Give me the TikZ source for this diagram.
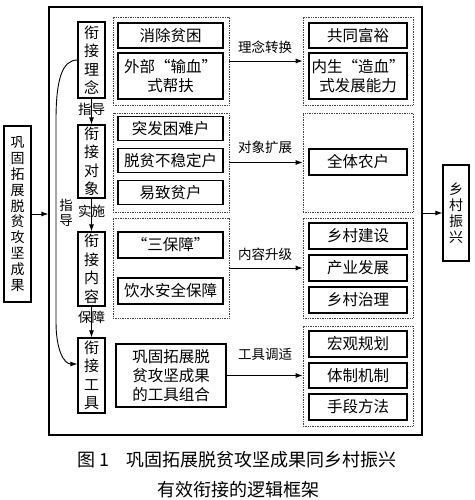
\documentclass[tikz,border=0pt]{standalone}
\usepackage{fontspec}
\setmainfont{Noto Sans CJK SC}
\usetikzlibrary{arrows.meta,calc}
\begin{document}
\begin{tikzpicture}[x=1pt,y=-1pt,
  box/.style={draw, line width=1.2pt, inner sep=0pt, align=center, font=\fontsize{15.5}{19}\selectfont},
  vbox/.style={box, font=\fontsize{15}{18.5}\selectfont},
  grp/.style={draw=black!75, densely dotted, line width=0.7pt, inner sep=0pt},
  lab/.style={inner sep=0pt, font=\fontsize{13.5}{15}\selectfont},
  arr/.style={-{Latex[length=7pt,width=5pt]}, line width=0.9pt}]
\useasboundingbox (0,0) rectangle (474,500);
% outer frame
\node[draw, line width=1.3pt, minimum width=373, minimum height=428, inner sep=0pt] (outer) at (235.5,221) {};
% left and right boxes
\node[box, font=\fontsize{14}{15.8}\selectfont, minimum width=27, minimum height=176] (L) at (17.5,214) {巩\\固\\拓\\展\\脱\\贫\\攻\\坚\\成\\果};
\node[box, font=\fontsize{14}{16}\selectfont, minimum width=26, minimum height=96] (R) at (456,213) {乡\\村\\振\\兴};
\draw[arr] (L.east) -- (L.east -| outer.west);
\draw[arr] (R.west -| outer.east) -- (R.west);
% column A
\node[vbox, minimum width=27, minimum height=76] (A1) at (91.5,60) {衔\\接\\理\\念};
\node[vbox, minimum width=27, minimum height=73] (A2) at (91.5,161.5) {衔\\接\\对\\象};
\node[vbox, minimum width=27, minimum height=74] (A3) at (91.5,269) {衔\\接\\内\\容};
\node[vbox, minimum width=27, minimum height=75] (A4) at (91.5,375.5) {衔\\接\\工\\具};
\node[lab] (l1) at (91.5,109) {指导};
\node[lab] (l2) at (91.5,211) {实施};
\node[lab] (l3) at (91.5,317) {保障};
\draw[arr] (A1.south) -- (A2.north);
\draw[arr] (A2.south) -- (A3.north);
\draw[arr] (A3.south) -- (A4.north);
\coordinate (ct) at ($(A4.west)+(0,-11.5)$);
\draw[arr] (A1.west) .. controls (62,60) and (56,80) .. (56,120) -- (56,322) .. controls (56,350) and (64,364) .. (ct);
\node[lab, align=center, font=\fontsize{13.5}{14.5}\selectfont] (l4) at (66,213) {指\\导};
% middle groups
\node[grp, minimum width=116, minimum height=88] (G1) at (171,61) {};
\node[grp, minimum width=116, minimum height=99] (G2) at (171,162.5) {};
\node[grp, minimum width=116, minimum height=100] (G3) at (171,268) {};
\node[box, minimum width=105, minimum height=25] (m1) at (170.5,35.5) {消除贫困};
\node[box, minimum width=105, minimum height=46] (m2) at (170.5,76) {外部“输血”\\式帮扶};
\node[box, minimum width=105, minimum height=24] (m3) at (170.5,128.5) {突发困难户};
\node[box, minimum width=105, minimum height=24] (m4) at (170.5,160.5) {脱贫不稳定户};
\node[box, minimum width=105, minimum height=24] (m5) at (170.5,192.5) {易致贫户};
\node[box, minimum width=105, minimum height=26] (m6) at (170.5,245) {“三保障”};
\node[box, minimum width=105, minimum height=26] (m7) at (170.5,291) {饮水安全保障};
\node[box, minimum width=110, minimum height=63] (T) at (171,375.5) {巩固拓展脱\\贫攻坚成果\\的工具组合};
% right groups
\node[grp, minimum width=110, minimum height=88] (R1) at (358,61) {};
\node[grp, minimum width=110, minimum height=99] (R2) at (358,162.5) {};
\node[grp, minimum width=110, minimum height=100] (R3) at (358,268) {};
\node[grp, minimum width=110, minimum height=100] (R4) at (358,376) {};
\node[box, minimum width=98, minimum height=25] (r1) at (358,35.5) {共同富裕};
\node[box, minimum width=98, minimum height=46] (r2) at (358,76) {内生“造血”\\式发展能力};
\node[box, minimum width=98, minimum height=26] (r3) at (358,162) {全体农户};
\node[box, minimum width=98, minimum height=26] (r4) at (358,236) {乡村建设};
\node[box, minimum width=98, minimum height=26] (r5) at (358,268) {产业发展};
\node[box, minimum width=98, minimum height=26] (r6) at (358,300) {乡村治理};
\node[box, minimum width=98, minimum height=26] (r7) at (358,344) {宏观规划};
\node[box, minimum width=98, minimum height=25] (r8) at (358,375.5) {体制机制};
\node[box, minimum width=98, minimum height=26] (r9) at (358,407) {手段方法};
% middle arrows and labels
\draw[arr] (G1.east) -- (R1.west);
\draw[arr] (G2.east) -- (R2.west);
\draw[arr] (G3.east) -- (R3.west);
\draw[arr] (T.east) -- (T.east -| R4.west);
\node[lab] (t1) at (265,47) {理念转换};
\node[lab] (t2) at (265,147) {对象扩展};
\node[lab] (t3) at (265,254) {内容升级};
\node[lab] (t4) at (265,354) {工具调适};
% caption
\node[inner sep=0pt, font=\fontsize{18}{20}\selectfont] (cap1) at (237,460) {图 1\hspace{0.9em}巩固拓展脱贫攻坚成果同乡村振兴};
\node[inner sep=0pt, font=\fontsize{18}{20}\selectfont] (cap2) at (238,490) {有效衔接的逻辑框架};
\end{tikzpicture}
\end{document}
